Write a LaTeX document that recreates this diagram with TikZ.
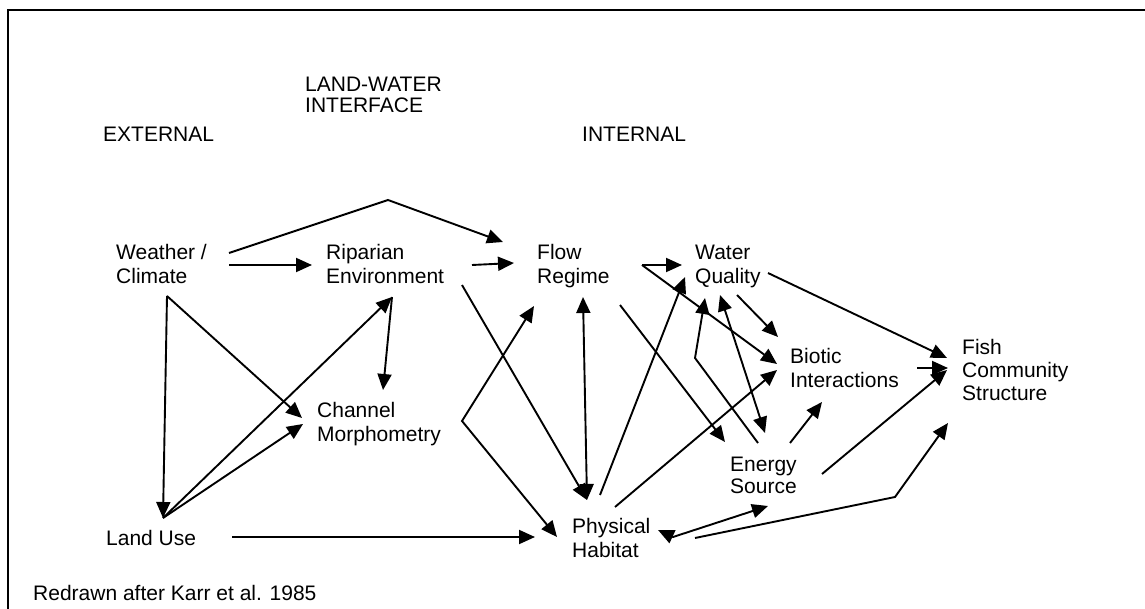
\documentclass[tikz,border=0pt]{standalone}
\usepackage{fontspec}
\setmainfont{Liberation Sans}
\usetikzlibrary{arrows.meta,calc}
\newcommand\mltext[1]{\begin{tabular}[t]{@{}l@{}}#1\end{tabular}}
\begin{document}
\begin{tikzpicture}[x=1pt,y=-1pt,
  lbl/.style={anchor=base west, inner sep=0pt, font=\fontsize{21}{24}\selectfont},
  con/.style={line width=1.9pt, -{Triangle[length=16pt,width=14pt]}},
  biarrow/.style={line width=1.9pt, {Triangle[length=16pt,width=14pt]}-{Triangle[length=16pt,width=14pt]}},
  frame/.style={line width=2.2pt}]
\useasboundingbox (0,0) rectangle (1145,609);
\draw[frame] (8,609) -- (8,10) -- (1145,10);

\node[lbl] (ext) at (103,142) {EXTERNAL};
\node[lbl] (lwi) at (305,92) {\mltext{LAND-WATER\\[-3pt]INTERFACE}};
\node[lbl] (int) at (582,142) {INTERNAL};
\node[lbl] (wc) at (116,260) {\mltext{Weather /\\Climate}};
\node[lbl] (re) at (326,260) {\mltext{Riparian\\Environment}};
\node[lbl] (cm) at (317,417) {\mltext{Channel\\Morphometry}};
\node[lbl] (lu) at (106,545) {Land Use};
\node[lbl] (fr) at (537,260) {\mltext{Flow\\Regime}};
\node[lbl] (wq) at (695,260) {\mltext{Water\\Quality}};
\node[lbl] (bi) at (790,363) {\mltext{Biotic\\Interactions}};
\node[lbl] (fc) at (962,355) {\mltext{Fish\\[-1pt]Community\\[-1pt]Structure}};
\node[lbl] (es) at (730,471) {\mltext{Energy\\[-2pt]Source}};
\node[lbl] (ph) at (572,533) {\mltext{Physical\\Habitat}};
\node[lbl] (ref) at (33,600) {Redrawn after Karr et al. 1985};

\draw[con] ($(wc.base west)+(113,-7)$) -- ($(re.base west)+(62,-60)$) -- ($(fr.base west)+(-34,-18)$);
\draw[con] ($(wc.base west)+(113,5)$) -- ($(re.base west)+(-14,5)$);
\draw[con] ($(re.base west)+(146,5)$) -- ($(fr.base west)+(-23,3)$);
\draw[con] ($(wc.base west)+(51,36)$) -- ($(lu.base west)+(57,-27)$);
\draw[con] ($(wc.base west)+(51,36)$) -- ($(cm.base west)+(-15,1)$);
\draw[con] ($(lu.base west)+(57,-27)$) -- ($(re.base west)+(66,37)$);
\draw[con] ($(lu.base west)+(57,-27)$) -- ($(cm.base west)+(-14,7)$);
\draw[con] ($(re.base west)+(66,37)$) -- ($(cm.base west)+(66,-27)$);
\draw[con] ($(re.base west)+(136,25)$) -- ($(ph.base west)+(15,-33)$);
\draw[biarrow] ($(fr.base west)+(46,37)$) -- ($(ph.base west)+(15,-33)$);
\draw[biarrow] ($(fr.base west)+(-3,46)$) -- ($(cm.base west)+(145,4)$) -- ($(ph.base west)+(-15,4)$);
\draw[con] ($(lu.base west)+(126,-8)$) -- ($(ph.base west)+(-37,4)$);
\draw[con] ($(fr.base west)+(105,5)$) -- ($(wq.base west)+(-13,5)$);
\draw[con] ($(fr.base west)+(105,5)$) -- ($(bi.base west)+(-13,1)$);
\draw[con] ($(ph.base west)+(28,-38)$) -- ($(wq.base west)+(-10,17)$);
\draw[con] ($(fr.base west)+(83,45)$) -- ($(es.base west)+(-5,-29)$);
\draw[con] ($(es.base west)+(28,-28)$) -- ($(wq.base west)+(0,98)$) -- ($(wq.base west)+(10,38)$);
\draw[biarrow] ($(wq.base west)+(25,35)$) -- ($(es.base west)+(35,-38)$);
\draw[con] ($(wq.base west)+(42,35)$) -- ($(bi.base west)+(-12,-26)$);
\draw[con] ($(ph.base west)+(43,-26)$) -- ($(bi.base west)+(-13,7)$);
\draw[con] ($(wq.base west)+(73,13)$) -- ($(fc.base west)+(-15,3)$);
\draw[con] ($(bi.base west)+(127,5)$) -- ($(fc.base west)+(-14,13)$);
\draw[con] ($(es.base west)+(92,3)$) -- ($(fc.base west)+(-15,15)$);
\draw[con] ($(es.base west)+(60,-28)$) -- ($(bi.base west)+(32,39)$);
\draw[biarrow] ($(ph.base west)+(86,-3)$) -- ($(ph.base west)+(101,4)$) -- ($(es.base west)+(38,35)$);
\draw[con] ($(ph.base west)+(123,5)$) -- ($(fc.base west)+(-67,142)$) -- ($(fc.base west)+(-14,68)$);
\end{tikzpicture}
\end{document}
